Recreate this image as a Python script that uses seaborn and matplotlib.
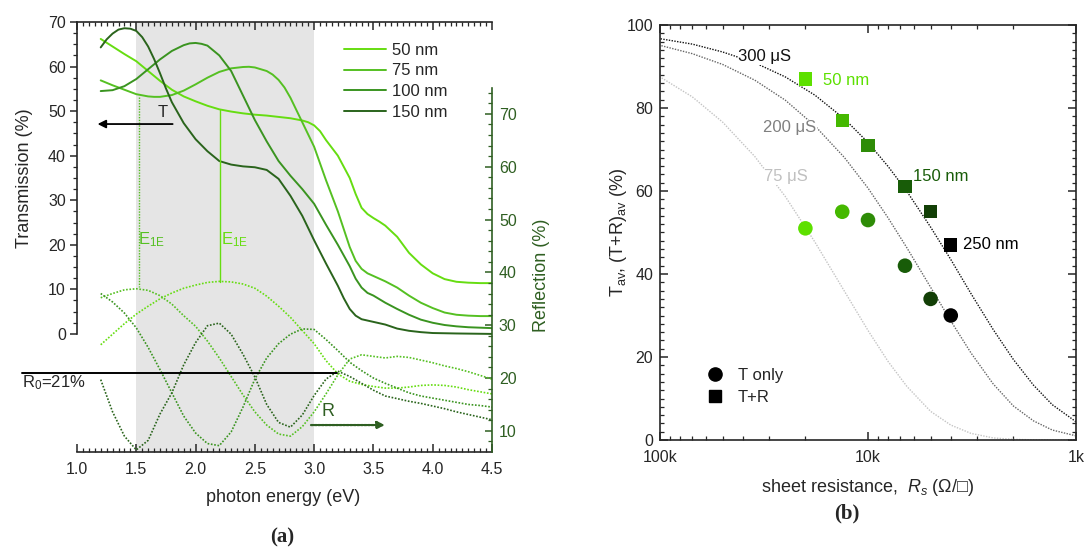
import numpy as np
import pandas as pd
import seaborn as sns
import matplotlib.pyplot as plt
from matplotlib.lines import Line2D
from matplotlib.ticker import MultipleLocator, FixedLocator, NullFormatter, FormatStrFormatter

sns.set_theme(style="ticks")
plt.rcParams['font.family'] = ['Liberation Sans', 'DejaVu Sans']
plt.rcParams['mathtext.fontset'] = 'custom'
plt.rcParams['mathtext.rm'] = 'Liberation Sans'
plt.rcParams['mathtext.it'] = 'Liberation Sans:italic'
plt.rcParams['axes.linewidth'] = 1.2

# ---------------- panel (a) data ----------------
# transmission (left axis)
energy_t50 = [1.2, 1.3, 1.4, 1.5, 1.6, 1.7, 1.8, 1.9, 2.0, 2.1, 2.2, 2.3, 2.4, 2.5, 2.6, 2.7, 2.8, 2.9, 2.95,
              3.0, 3.05, 3.1, 3.2, 3.3, 3.35, 3.4, 3.45, 3.5, 3.55, 3.6, 3.7, 3.8, 3.9, 4.0, 4.1, 4.2, 4.3, 4.4, 4.5]
trans_50 = [66.2, 64.5, 62.8, 61.2, 59.0, 56.8, 54.8, 53.3, 52.2, 51.2, 50.4, 49.9, 49.5, 49.2, 49.0, 48.7, 48.4, 47.9, 47.5,
            46.8, 45.5, 43.5, 40.0, 35.0, 31.4, 28.3, 26.9, 26.0, 25.2, 24.3, 21.8, 18.2, 15.6, 13.6, 12.3, 11.7, 11.5, 11.4, 11.4]

energy_t75 = [1.2, 1.3, 1.4, 1.5, 1.6, 1.65, 1.7, 1.8, 1.9, 2.0, 2.1, 2.2, 2.3, 2.4, 2.45, 2.5, 2.6, 2.65, 2.7, 2.75,
              2.8, 2.9, 3.0, 3.1, 3.2, 3.3, 3.35, 3.4, 3.45, 3.5, 3.6, 3.7, 3.8, 3.9, 4.0, 4.1, 4.2, 4.3, 4.4, 4.5]
trans_75 = [56.9, 55.8, 54.8, 53.8, 53.3, 53.2, 53.2, 53.6, 54.6, 56.0, 57.5, 58.8, 59.6, 59.9, 59.95, 59.8, 59.0, 58.2, 57.0, 55.3,
            53.0, 47.5, 42.0, 34.5, 27.5, 19.5, 16.4, 14.6, 13.6, 13.0, 11.8, 10.4, 8.6, 7.0, 5.8, 4.8, 4.3, 4.1, 4.0, 4.0]

energy_t100 = [1.2, 1.3, 1.4, 1.5, 1.6, 1.7, 1.8, 1.9, 1.95, 2.0, 2.05, 2.1, 2.2, 2.3, 2.4, 2.5, 2.6, 2.7, 2.8, 2.9,
               3.0, 3.1, 3.2, 3.3, 3.35, 3.4, 3.45, 3.5, 3.6, 3.7, 3.8, 3.9, 4.0, 4.1, 4.2, 4.3, 4.4, 4.5]
trans_100 = [54.5, 54.7, 55.6, 57.2, 59.4, 61.6, 63.5, 64.8, 65.2, 65.3, 65.1, 64.7, 62.5, 59.0, 53.5, 48.0, 43.2, 38.8, 35.5, 32.5,
             29.2, 24.5, 20.0, 15.2, 12.4, 10.4, 9.2, 8.6, 7.0, 5.6, 4.3, 3.2, 2.5, 2.0, 1.7, 1.5, 1.4, 1.3]

energy_t150 = [1.2, 1.25, 1.3, 1.35, 1.4, 1.45, 1.5, 1.55, 1.6, 1.65, 1.7, 1.75, 1.8, 1.9, 2.0, 2.1, 2.2, 2.3, 2.4, 2.5,
               2.6, 2.7, 2.8, 2.9, 3.0, 3.1, 3.2, 3.25, 3.3, 3.35, 3.4, 3.5, 3.6, 3.7, 3.8, 3.9, 4.0, 4.2, 4.5]
trans_150 = [64.3, 66.1, 67.4, 68.3, 68.6, 68.5, 68.0, 66.6, 64.5, 61.7, 58.5, 55.1, 52.0, 47.3, 43.7, 41.0, 38.8, 38.0, 37.6, 37.4,
             36.8, 34.8, 31.0, 26.5, 21.0, 15.8, 10.8, 8.0, 5.6, 4.1, 3.3, 2.7, 2.1, 1.2, 0.7, 0.4, 0.2, 0.1, 0.0]

# reflection (right axis)
energy_r = [1.2, 1.3, 1.4, 1.5, 1.6, 1.7, 1.8, 1.9, 2.0, 2.1, 2.2, 2.3, 2.4, 2.5, 2.6, 2.7, 2.8, 2.9,
            3.0, 3.1, 3.2, 3.3, 3.4, 3.5, 3.6, 3.7, 3.8, 3.9, 4.0, 4.1, 4.2, 4.3, 4.4, 4.5]
refl_50 = [26.3, 28.3, 30.3, 32.1, 33.6, 35.0, 36.1, 37.0, 37.6, 38.1, 38.3, 38.2, 37.8, 37.0, 35.5, 33.6, 31.5, 29.0,
           26.5, 23.3, 20.8, 19.4, 18.8, 18.4, 18.1, 18.1, 18.3, 18.6, 18.7, 18.6, 18.3, 17.8, 17.4, 17.0]
refl_75 = [35.2, 36.0, 36.7, 36.9, 36.6, 35.6, 34.0, 31.8, 29.8, 27.0, 23.8, 20.3, 16.8, 13.6, 11.1, 9.4, 9.0, 10.8,
           13.6, 17.0, 20.6, 23.6, 24.4, 24.1, 23.8, 24.1, 23.9, 23.4, 22.9, 22.3, 21.8, 21.2, 20.5, 19.8]
refl_100 = [36.0, 34.4, 32.3, 29.5, 25.8, 21.6, 17.2, 12.8, 9.6, 7.6, 7.2, 9.8, 14.5, 19.8, 23.8, 26.5, 28.3, 29.3,
            29.2, 27.3, 25.2, 23.0, 21.4, 20.0, 19.0, 18.1, 17.2, 16.6, 16.2, 15.8, 15.4, 15.0, 14.8, 14.5]
refl_150 = [19.7, 13.6, 9.0, 6.4, 8.2, 13.2, 17.2, 22.5, 26.7, 29.9, 30.4, 28.3, 24.5, 20.2, 15.0, 11.6, 10.7, 13.0,
            16.7, 19.8, 21.3, 20.3, 19.0, 17.7, 16.6, 16.1, 15.6, 15.2, 14.7, 14.2, 13.6, 13.1, 12.6, 12.1]

thickness_labels = ['50 nm', '75 nm', '100 nm', '150 nm']
line_colors = ['#66dd11', '#55c022', '#3a9420', '#2a641c']

e1e_x = [1.52, 2.21]
e1e_top = [53.2, 50.3]     # on transmission axis
e1e_bottom = [10.5, 11.7]  # on transmission axis
r0_value = 21

# ---------------- panel (b) data ----------------
rs_points = [20000, 13300, 10000, 6640, 5000, 4000]
point_names = ['50 nm', '75 nm', '100 nm', '150 nm', '200 nm', '250 nm']
t_only = [51, 55, 53, 42, 34, 30]
t_plus_r = [87, 77, 71, 61, 55, 47]
point_colors = ['#5de000', '#45b800', '#2e8c07', '#185c08', '#123f06', '#000000']

rs_curve = [100000, 70000, 50000, 35000, 25000, 18000, 13000, 10000, 8000, 6500, 5000, 4000,
            3200, 2500, 2000, 1600, 1300, 1000]
t_300uS = [96.7, 95.4, 93.5, 90.9, 87.5, 83.1, 77.4, 71.7, 65.9, 59.9, 51.3, 43.5,
           35.3, 26.6, 19.4, 13.2, 8.5, 4.4]
t_200uS = [95.1, 93.1, 90.5, 86.7, 81.9, 75.7, 68.1, 60.7, 53.5, 46.3, 36.8, 28.7,
           21.0, 13.5, 8.2, 4.6, 2.4, 1.0]
t_75uS = [87.5, 82.7, 76.6, 68.3, 58.7, 47.7, 35.9, 26.4, 18.9, 12.9, 6.9, 3.6,
          1.6, 0.5, 0.15, 0.05, 0.0, 0.0]

W, H = 1088, 553
fig = plt.figure(figsize=(W / 100, H / 100), dpi=100)

# ======================= (a) =======================
axA = fig.add_axes([77 / W, 101 / H, 415 / W, 430 / H])
axA.axvspan(1.5, 3.0, color='#e5e5e5', lw=0, zorder=0)

t_series = [(energy_t50, trans_50), (energy_t75, trans_75), (energy_t100, trans_100), (energy_t150, trans_150)]
for (ex, vals), lab, col in zip(t_series, thickness_labels, line_colors):
    sns.lineplot(x=ex, y=vals, ax=axA, color=col, lw=1.4, label=lab)

axA.set_xlim(1.0, 4.5)
axA.set_ylim(-26.5, 70)
axA.spines['left'].set_bounds(0, 70)
axA.spines['right'].set_visible(False)
axA.set_yticks(range(0, 71, 10))
axA.yaxis.set_minor_locator(FixedLocator(np.arange(0, 70.1, 2.5)))
axA.xaxis.set_major_locator(MultipleLocator(0.5))
axA.xaxis.set_minor_locator(MultipleLocator(0.05))
axA.xaxis.set_major_formatter(FormatStrFormatter('%.1f'))
axA.tick_params(axis='x', which='both', direction='in', top=True, bottom=True, labelsize=11.5, pad=7)
axA.tick_params(axis='x', which='major', length=6, width=1.1)
axA.tick_params(axis='x', which='minor', length=3, width=0.9)
axA.tick_params(axis='y', which='both', direction='out', left=True, labelsize=11.5, pad=3)
axA.tick_params(axis='y', which='major', length=5, width=1.1)
axA.tick_params(axis='y', which='minor', length=3, width=0.9)

axA.set_xlabel('photon energy (eV)', fontsize=13)
axA.set_ylabel('Transmission (%)', fontsize=13)
axA.xaxis.set_label_coords(0.496, -0.085)
axA.yaxis.set_label_coords(-0.105, 0.637)

axA.legend(loc='upper left', bbox_to_anchor=(0.62, 0.975), frameon=False, fontsize=12,
           handlelength=2.5, labelspacing=0.34, handletextpad=0.35, borderaxespad=0.2)

# E1E guide lines
axA.plot([e1e_x[0], e1e_x[0]], [e1e_top[0], e1e_bottom[0]], color='#55c022', lw=1.0, ls=(0, (1, 1)))
axA.plot([e1e_x[1], e1e_x[1]], [e1e_top[1], e1e_bottom[1]], color='#66dd11', lw=1.0)
axA.text(1.63, 21.1, 'E$_{\\rm 1E}$', color='#55c022', fontsize=12, ha='center', va='center')
axA.text(2.33, 21.1, 'E$_{\\rm 1E}$', color='#66dd11', fontsize=12, ha='center', va='center')

# T arrow
axA.annotate('', xy=(1.15, 47.1), xytext=(1.83, 47.1),
             arrowprops=dict(arrowstyle='-|>', color='black', lw=1.3, mutation_scale=12))
axA.text(1.725, 49.6, 'T', fontsize=12, ha='center', va='center')

# reflection axis
dk = '#2f5f22'
axR = axA.twinx()
for vals, col in zip([refl_50, refl_75, refl_100, refl_150], line_colors):
    sns.lineplot(x=energy_r, y=vals, ax=axR, color=col, lw=1.2, linestyle=(0, (1, 1)))
axR.set_ylim(6.0, 87.4)
axR.set_xlim(1.0, 4.5)
for s in ['top', 'left', 'bottom']:
    axR.spines[s].set_visible(False)
axR.spines['right'].set_bounds(6, 75)
axR.spines['right'].set_color(dk)
axR.set_yticks(range(10, 71, 10))
axR.yaxis.set_minor_locator(FixedLocator([v for v in range(8, 76, 2) if v % 10 != 0]))
axR.tick_params(axis='y', which='both', direction='in', colors=dk, labelsize=11.5, pad=5)
axR.tick_params(axis='y', which='major', length=5, width=1.1)
axR.tick_params(axis='y', which='minor', length=3, width=0.9)
axR.set_ylabel('Reflection (%)', fontsize=13, color=dk)
axR.yaxis.set_label_coords(1.1, 0.41)

axR.plot([0.536, 3.19], [r0_value, r0_value], color='black', lw=1.4, clip_on=False)
axR.text(0.536, 19.1, 'R$_0$=21%', fontsize=12, ha='left', va='center')
axR.annotate('', xy=(3.62, 11.1), xytext=(2.95, 11.1),
             arrowprops=dict(arrowstyle='-|>', color=dk, lw=1.6, ls=(0, (1, 0.6)), mutation_scale=11))
axR.text(3.12, 13.7, 'R', fontsize=13, color=dk, ha='center', va='center')

# ======================= (b) =======================
axB = fig.add_axes([660 / W, 113 / H, 416 / W, 415 / H])
axB.set_xscale('log')

for vals, col in zip([t_300uS, t_200uS, t_75uS], ['#111111', '#666666', '#c4c4c4']):
    sns.lineplot(x=rs_curve, y=vals, ax=axB, color=col, lw=1.0, linestyle=(0, (1, 1)))

df = pd.DataFrame({'rs': rs_points, 'film': point_names, 't': t_only, 'tr': t_plus_r})
pal = dict(zip(point_names, point_colors))
sns.scatterplot(data=df, x='rs', y='t', hue='film', palette=pal, marker='o', s=110,
                edgecolor='none', legend=False, ax=axB, zorder=5)
sns.scatterplot(data=df, x='rs', y='tr', hue='film', palette=pal, marker='s', s=90,
                edgecolor='none', legend=False, ax=axB, zorder=5)

axB.set_xlim(1e5, 1e3)
axB.set_ylim(0, 100)
axB.set_xticks([1e5, 1e4, 1e3])
axB.set_xticklabels(['100k', '10k', '1k'])
axB.xaxis.set_minor_formatter(NullFormatter())
axB.set_yticks(range(0, 101, 20))
axB.yaxis.set_minor_locator(MultipleLocator(2))
axB.tick_params(which='both', direction='in', top=True, right=True, labelsize=11.5)
axB.tick_params(which='major', length=6, width=1.1)
axB.tick_params(which='minor', length=3, width=0.9)
axB.tick_params(axis='x', pad=7)
axB.tick_params(axis='y', pad=5)

axB.set_xlabel('sheet resistance,  $R_s$ (Ω/□)', fontsize=13)
axB.set_ylabel('T$_{\\rm av}$, (T+R)$_{\\rm av}$ (%)', fontsize=13)
axB.xaxis.set_label_coords(0.5, -0.09)
axB.yaxis.set_label_coords(-0.075, 0.5)

bb = dict(facecolor='white', edgecolor='none', pad=0.6)
axB.text(31300, 92.3, '300 μS', fontsize=12, color='#111111', ha='center', va='center', bbox=bb, zorder=4)
axB.text(23700, 75.2, '200 μS', fontsize=12, color='#808080', ha='center', va='center', bbox=bb, zorder=4)
axB.text(24800, 63.4, '75 μS', fontsize=12, color='#c0c0c0', ha='center', va='center', bbox=bb, zorder=4)

axB.text(16400, 86.7, '50 nm', fontsize=12, color='#5de000', ha='left', va='center')
axB.text(6080, 63.6, '150 nm', fontsize=12, color='#185c08', ha='left', va='center')
axB.text(3490, 47.0, '250 nm', fontsize=12, color='black', ha='left', va='center')

handles = [Line2D([], [], marker='o', color='black', ls='none', markersize=9.5),
           Line2D([], [], marker='s', color='black', ls='none', markersize=8.5)]
axB.legend(handles, ['T only', 'T+R'], loc='upper left', bbox_to_anchor=(0.075, 0.19), frameon=False,
           fontsize=12, handletextpad=0.4, labelspacing=0.45, borderaxespad=0.0)

fig.text(282 / W, 1 - 537 / H, '(a)', fontsize=15, fontweight='bold', family='Liberation Serif',
         ha='center', va='center')
fig.text(847 / W, 1 - 513 / H, '(b)', fontsize=15, fontweight='bold', family='Liberation Serif',
         ha='center', va='center')

fig.savefig('out.png', dpi=100)
